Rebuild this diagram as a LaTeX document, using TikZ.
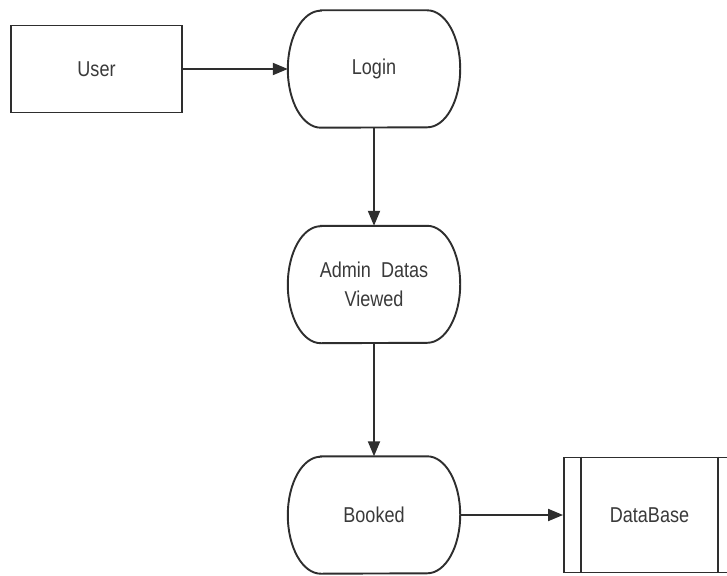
\documentclass[tikz,border=0pt]{standalone}
\usepackage{fontspec}
\setmainfont{Liberation Sans}[FakeStretch=0.84]
\usetikzlibrary{arrows.meta}
\definecolor{ln}{HTML}{2E2E2E}
\definecolor{tx}{HTML}{3A3A3A}
\begin{document}
\begin{tikzpicture}[x=1pt,y=1pt,
  line/.style={draw=ln,line width=1.9pt},
  arr/.style={line,-{Triangle[length=15pt,width=12pt]}},
  lbl/.style={text=tx,font=\fontsize{21.5}{29}\selectfont,align=center},
  boxnode/.style={lbl,line,rectangle,minimum width=171pt,minimum height=87pt,inner sep=0pt},
  termnode/.style={lbl,rectangle,draw=none,minimum width=172pt,minimum height=117pt,inner sep=0pt},
  storenode/.style={lbl,line,rectangle,minimum width=171pt,minimum height=115pt,inner sep=0pt}]
\useasboundingbox[fill=white] (0,0) rectangle (727,-575);
\node[boxnode] (user) at (96.5,-69) {User};
\node[termnode] (login) at (374,-69) {Login};
\node[termnode] (admin) at (374,-284.5) {Admin\ \ Datas\\Viewed};
\node[termnode] (booked) at (374,-515) {Booked};
\node[storenode] (db) at (649.5,-515) {DataBase};
\draw[line] ([xshift=18pt]db.north west) -- ([xshift=18pt]db.south west);
\draw[line] ([xshift=-18pt]db.north east) -- ([xshift=-18pt]db.south east);
\foreach \n in {login,admin,booked}{
  \draw[line] ([xshift=33pt]\n.north west) -- ([xshift=-33pt]\n.north east)
    arc[start angle=90,end angle=-90,x radius=33pt,y radius=58.5pt]
    -- ([xshift=33pt]\n.south west)
    arc[start angle=270,end angle=90,x radius=33pt,y radius=58.5pt] -- cycle;
}
\draw[arr] (user.east) -- (login.west);
\draw[arr] (login.south) -- (admin.north);
\draw[arr] (admin.south) -- (booked.north);
\draw[arr] (booked.east) -- (db.west);
\end{tikzpicture}
\end{document}
